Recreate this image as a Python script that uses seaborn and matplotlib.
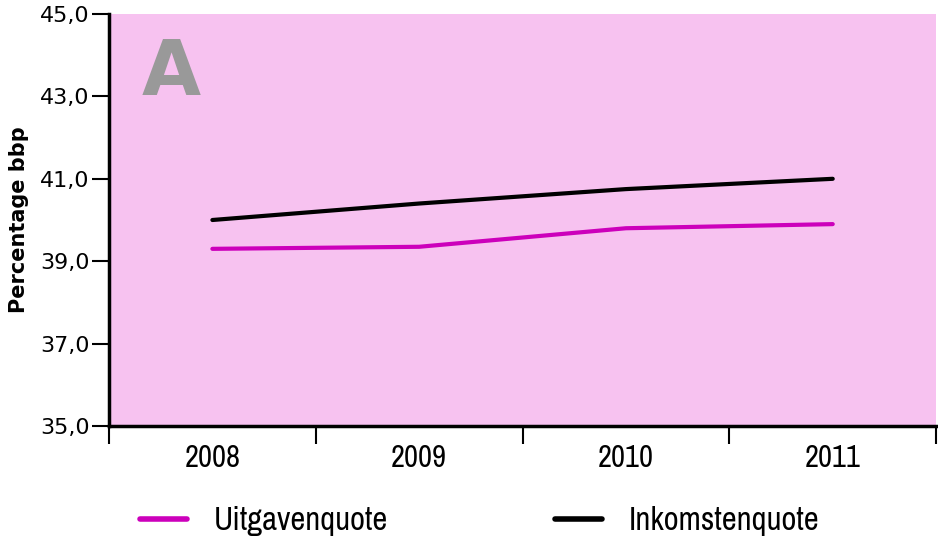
import matplotlib
matplotlib.use("Agg")
import matplotlib.pyplot as plt
import seaborn as sns
import pandas as pd
from matplotlib.lines import Line2D

years = ["2008", "2009", "2010", "2011"]
uitgavenquote = [39.3, 39.35, 39.8, 39.9]
inkomstenquote = [40.0, 40.4, 40.75, 41.0]
series_names = ["Uitgavenquote", "Inkomstenquote"]
yticks = [35.0, 37.0, 39.0, 41.0, 43.0, 45.0]

df = pd.DataFrame({
    "jaar": years * 2,
    "waarde": uitgavenquote + inkomstenquote,
    "reeks": [series_names[0]] * 4 + [series_names[1]] * 4,
})

sns.set_style("white")
plt.rcParams["font.family"] = ["Arimo", "DejaVu Sans"]
plt.rcParams["text.color"] = "black"
plt.rcParams["axes.labelcolor"] = "black"
plt.rcParams["xtick.color"] = "black"
plt.rcParams["ytick.color"] = "black"
narrow = ["Archivo Narrow", "Arimo", "DejaVu Sans"]

colors = {"Uitgavenquote": "#CC00BB", "Inkomstenquote": "#000000"}

fig = plt.figure(figsize=(9.38, 5.36), dpi=100)
ax = fig.add_axes([0.1162, 0.2052, 0.8818, 0.7687])
ax.set_facecolor("#F7C2F0")

sns.lineplot(data=df, x="jaar", y="waarde", hue="reeks", palette=colors,
             linewidth=3, ax=ax, legend=False, sort=False)

ax.set_ylim(35, 45)
ax.set_xlim(-0.5, 3.5)
ax.set_yticks(yticks)
ax.set_yticklabels([f"{v:.1f}".replace(".", ",") for v in yticks], fontsize=16)
ax.set_xticks([-0.5, 0.5, 1.5, 2.5, 3.5])
ax.set_xticklabels([])
ax.set_xticks(range(len(years)), minor=True)
ax.set_xticklabels(years, minor=True, fontsize=22, family=narrow)
ax.tick_params(axis="x", which="major", direction="out", length=13, width=1.5, color="black", bottom=True)
ax.tick_params(axis="x", which="minor", length=0, pad=13, bottom=True)
ax.tick_params(axis="y", direction="out", length=12, width=1.5, color="black", left=True, pad=2)

for s in ["top", "right"]:
    ax.spines[s].set_visible(False)
for s in ["left", "bottom"]:
    ax.spines[s].set_linewidth(2.5)
    ax.spines[s].set_color("black")

ax.set_xlabel("")
ax.set_ylabel("Percentage bbp", fontsize=15, fontweight="bold", family=["Arimo", "DejaVu Sans"], labelpad=8)

ax.text(0.075, 0.855, "A", transform=ax.transAxes, fontsize=55, fontweight="bold",
        color="#999999", ha="center", va="center")

handles = [Line2D([0], [0], color=colors[n], lw=4) for n in series_names]
for h, name, xpos in zip(handles, series_names, [140 / 938, 555 / 938]):
    leg = fig.legend([h], [name], loc="center left", bbox_to_anchor=(xpos, 1 - 521 / 536),
                     frameon=False, borderpad=0, borderaxespad=0, handlelength=1.45,
                     handletextpad=0.8, prop={"family": narrow, "size": 23.5})

fig.savefig("out.png", dpi=100)
